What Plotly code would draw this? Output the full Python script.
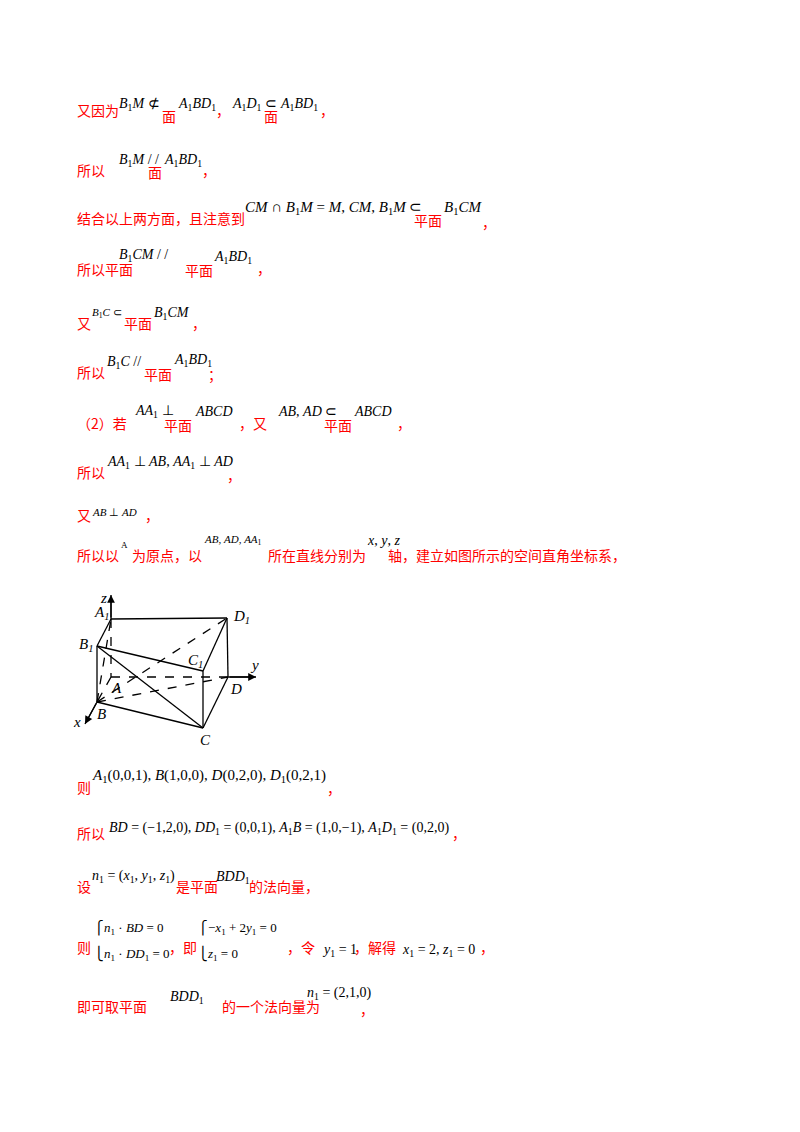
import plotly.graph_objects as go

RED = "#ff0000"
BLK = "#000000"
CJK = "Noto Sans CJK SC"
SERIF = "Liberation Serif"

# text segments: (x, y, text, kind, size)  kind: c=red chinese, m=math
segments = [
    (75,110,"又因为","c",14),(117,104,"<i>B</i><sub>1</sub><i>M</i> ⊄","m",14),(160,116,"面","c",14),
    (176,104,"<i>A</i><sub>1</sub><i>BD</i><sub>1</sub>","m",14),(214,110,"，","c",14),
    (230,104,"<i>A</i><sub>1</sub><i>D</i><sub>1</sub> ⊂","m",14),(262,116,"面","c",14),
    (278,104,"<i>A</i><sub>1</sub><i>BD</i><sub>1</sub>","m",14),(318,110,"，","c",14),

    (75,170,"所以","c",14),(117,160,"<i>B</i><sub>1</sub><i>M</i> / /","m",14),(146,172,"面","c",14),
    (162,160,"<i>A</i><sub>1</sub><i>BD</i><sub>1</sub>","m",14),(200,170,"，","c",14),

    (75,218,"结合以上两方面，且注意到","c",14),
    (243,208,"<i>CM</i> ∩ <i>B</i><sub>1</sub><i>M</i> = <i>M</i>, <i>CM</i>, <i>B</i><sub>1</sub><i>M</i> ⊂","m",15),
    (412,220,"平面","c",14),(442,208,"<i>B</i><sub>1</sub><i>CM</i>","m",15),(480,222,"，","c",14),

    (75,269,"所以平面","c",14),(117,255,"<i>B</i><sub>1</sub><i>CM</i> / /","m",14),(183,270,"平面","c",14),
    (212,257,"<i>A</i><sub>1</sub><i>BD</i><sub>1</sub>","m",14),(255,268,"，","c",14),

    (75,323,"又","c",14),(90,313,"<i>B</i><sub>1</sub><i>C</i> ⊂","m",11),(122,323,"平面","c",14),
    (152,313,"<i>B</i><sub>1</sub><i>CM</i>","m",14),(190,323,"，","c",14),

    (75,372,"所以","c",14),(105,362,"<i>B</i><sub>1</sub><i>C</i> //","m",14),(142,374,"平面","c",14),
    (172,360,"<i>A</i><sub>1</sub><i>BD</i><sub>1</sub>","m",14),(206,374,"；","c",14),

    (75,423,"（2）若","c",14),(133,411,"<i>AA</i><sub>1</sub> ⊥","m",14),(162,425,"平面","c",14),
    (193,411,"<i>ABCD</i>","m",14),(237,423,"，又","c",14),(276,411,"<i>AB</i>, <i>AD</i> ⊂","m",14),
    (322,425,"平面","c",14),(352,411,"<i>ABCD</i>","m",14),(395,423,"，","c",14),

    (75,472,"所以","c",14),(105,462,"<i>AA</i><sub>1</sub> ⊥ <i>AB</i>, <i>AA</i><sub>1</sub> ⊥ <i>AD</i>","m",14),
    (225,475,"，","c",14),

    (75,515,"又","c",14),(90,512,"<i>AB</i> ⊥ <i>AD</i>","m",11),(143,515,"，","c",14),

    (75,555,"所以以","c",14),(119,545,"A","m",9),(130,555,"为原点，以","c",14),
    (202,540,"<i>AB</i>, <i>AD</i>, <i>AA</i><sub>1</sub>","m",11),(266,555,"所在直线分别为","c",14),
    (365,540,"<i>x</i>, <i>y</i>, <i>z</i>","m",14),(386,555,"轴，建立如图所示的空间直角坐标系，","c",14),

    (75,787,"则","c",14),
    (90,776,"<i>A</i><sub>1</sub>(0,0,1), <i>B</i>(1,0,0), <i>D</i>(0,2,0), <i>D</i><sub>1</sub>(0,2,1)","m",15),
    (325,788,"，","c",14),

    (75,833,"所以","c",14),
    (107,828,"<i>BD</i> = (−1,2,0), <i>DD</i><sub>1</sub> = (0,0,1), <i>A</i><sub>1</sub><i>B</i> = (1,0,−1), <i>A</i><sub>1</sub><i>D</i><sub>1</sub> = (0,2,0)","m",14),
    (450,833,"，","c",14),

    (75,886,"设","c",14),(90,876,"<i>n</i><sub>1</sub> = (<i>x</i><sub>1</sub>, <i>y</i><sub>1</sub>, <i>z</i><sub>1</sub>)","m",14),
    (174,886,"是平面","c",14),(214,877,"<i>BDD</i><sub>1</sub>","m",14),(247,886,"的法向量，","c",14),

    (75,947,"则","c",14),(92,928,"⎧<i>n</i><sub>1</sub> · <i>BD</i> = 0","m",13),(92,954,"⎩<i>n</i><sub>1</sub> · <i>DD</i><sub>1</sub> = 0","m",13),
    (167,947,"，即","c",14),(196,928,"⎧−<i>x</i><sub>1</sub> + 2<i>y</i><sub>1</sub> = 0","m",13),(196,954,"⎩<i>z</i><sub>1</sub> = 0","m",13),
    (285,947,"，令","c",14),(320,950,"<i>y</i><sub>1</sub> = 1","m",14),(352,947,"，解得","c",14),
    (400,950,"<i>x</i><sub>1</sub> = 2, <i>z</i><sub>1</sub> = 0","m",14),(478,947,"，","c",14),

    (75,1006,"即可取平面","c",14),(168,997,"<i>BDD</i><sub>1</sub>","m",14),(220,1006,"的一个法向量为","c",14),
    (305,993,"<i>n</i><sub>1</sub> = (2,1,0)","m",14),(358,1009,"，","c",14),
]

# diagram vertices (page pixels)
V = {"A1":(111,619),"D1":(227,618),"B1":(97,646),"C1":(203,671),
     "A":(111,677),"D":(228,677),"B":(97,702),"C":(203,728)}
solid_edges = [("A1","D1"),("A1","B1"),("B1","C1"),("C1","D1"),("D1","D"),("B1","B"),
               ("B","C"),("C","C1"),("C","D"),("B1","C")]
dashed_edges = [("A1","A"),("A","D"),("A","B"),("B","A1"),("B","D1"),("B","D")]
axes_lines = [((111,619),(111,595)),((228,677),(256,677)),((97,702),(85,724))]
labels = [(103,598,"z"),(101,613,"A<sub>1</sub>"),(241,617,"D<sub>1</sub>"),(86,645,"B<sub>1</sub>"),
          (195,661,"C<sub>1</sub>"),(254,665,"y"),(116,688,"A"),(236,689,"D"),(101,714,"B"),
          (77,722,"x"),(205,740,"C")]

fig = go.Figure()
def seg(p, q, dash):
    fig.add_trace(go.Scatter(x=[p[0], q[0]], y=[p[1], q[1]], mode="lines",
                             line=dict(color=BLK, width=1.3, dash=dash), hoverinfo="skip"))
for a, b in solid_edges:
    seg(V[a], V[b], "solid")
for a, b in dashed_edges:
    seg(V[a], V[b], "dash")
for p, q in axes_lines:
    seg(p, q, "solid")
    fig.add_annotation(x=q[0], y=q[1], ax=p[0], ay=p[1], xref="x", yref="y", axref="x", ayref="y",
                       text="", showarrow=True, arrowhead=2, arrowsize=1.2, arrowwidth=1.3, arrowcolor=BLK)
for x, y, t in labels:
    fig.add_annotation(x=x, y=y, text="<i>%s</i>" % t, showarrow=False, xanchor="center", yanchor="middle",
                       font=dict(family=SERIF, size=15, color=BLK))

for x, y, t, k, s in segments:
    fig.add_annotation(x=x, y=y, text=t, showarrow=False, xanchor="left", yanchor="middle",
                       font=dict(family=CJK if k == "c" else SERIF, size=s, color=RED if k == "c" else BLK))

# page body has an 8px margin, so offset the coordinate frame by 8px
fig.update_layout(width=800, height=1132, margin=dict(l=0, r=0, t=0, b=0), showlegend=False,
                  plot_bgcolor="white", paper_bgcolor="white",
                  xaxis=dict(range=[8, 808], visible=False, fixedrange=True),
                  yaxis=dict(range=[1140, 8], visible=False, fixedrange=True))
fig.write_html("out.html")
